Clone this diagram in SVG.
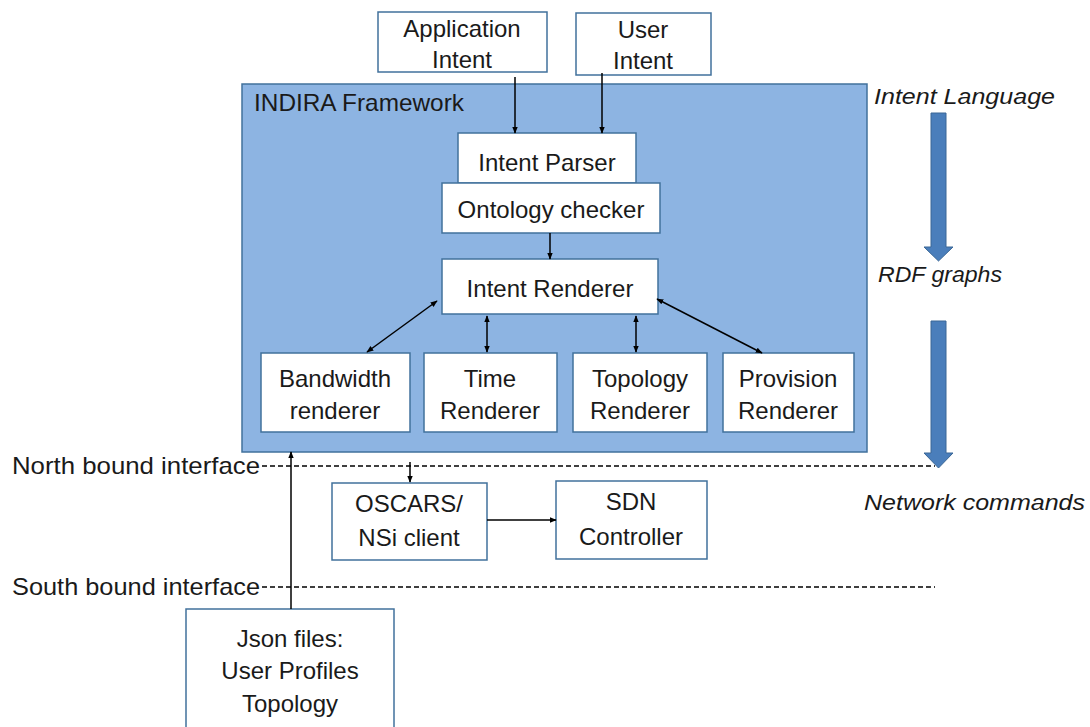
<svg xmlns="http://www.w3.org/2000/svg" width="1090" height="727" viewBox="0 0 1090 727">
<defs>
<style>
.box{fill:#fff;stroke:#41719C;stroke-width:1.5}
.t{font-family:"Liberation Sans",Arial,sans-serif;font-size:24px;fill:#1a1a1a;text-anchor:middle}
.ti{font-family:"Liberation Sans",Arial,sans-serif;font-size:22px;font-style:italic;fill:#1a1a1a}
.c{stroke:#000;stroke-width:1.5;fill:none}
.d{stroke:#000;stroke-width:1.3;stroke-dasharray:5 3;fill:none}
.big{fill:#4A7EBB;stroke:#3A6796;stroke-width:1}
</style>
<marker id="ah" viewBox="0 0 10 10" refX="9" refY="5" markerWidth="7" markerHeight="7" orient="auto-start-reverse" markerUnits="userSpaceOnUse">
<path d="M0,1 L10,5 L0,9 z" fill="#000"/>
</marker>
</defs>
<rect width="1090" height="727" fill="#fff"/>

<g id="framework">
<rect x="242" y="84" width="625" height="368" fill="#8DB4E2" stroke="#41719C" stroke-width="1.5"/>
<text class="t" x="254" y="111" style="text-anchor:start" textLength="210" lengthAdjust="spacingAndGlyphs">INDIRA Framework</text>
</g>

<g id="app-intent">
<rect class="box" x="378" y="12" width="169" height="60"/>
<text class="t" x="462" y="37">Application</text>
<text class="t" x="462" y="68">Intent</text>
</g>
<g id="user-intent">
<rect class="box" x="576" y="13" width="135" height="62"/>
<text class="t" x="643" y="38">User</text>
<text class="t" x="643" y="69">Intent</text>
</g>
<g id="intent-parser">
<rect class="box" x="458" y="133" width="178" height="50"/>
<text class="t" x="547" y="171">Intent Parser</text>
</g>
<g id="ontology-checker">
<rect class="box" x="442" y="183" width="218" height="50"/>
<text class="t" x="551" y="218">Ontology checker</text>
</g>
<g id="intent-renderer">
<rect class="box" x="442" y="259" width="216" height="55"/>
<text class="t" x="550" y="297">Intent Renderer</text>
</g>
<g id="bandwidth-renderer">
<rect class="box" x="261" y="353" width="149" height="79"/>
<text class="t" x="335" y="387">Bandwidth</text>
<text class="t" x="335" y="419">renderer</text>
</g>
<g id="time-renderer">
<rect class="box" x="424" y="353" width="133" height="79"/>
<text class="t" x="490" y="387">Time</text>
<text class="t" x="490" y="419">Renderer</text>
</g>
<g id="topology-renderer">
<rect class="box" x="573" y="353" width="134" height="79"/>
<text class="t" x="640" y="387">Topology</text>
<text class="t" x="640" y="419">Renderer</text>
</g>
<g id="provision-renderer">
<rect class="box" x="723" y="353" width="131" height="79"/>
<text class="t" x="788" y="387">Provision</text>
<text class="t" x="788" y="419">Renderer</text>
</g>
<g id="oscars">
<rect class="box" x="332" y="483" width="155" height="77"/>
<text class="t" x="409" y="512">OSCARS/</text>
<text class="t" x="409" y="546">NSi client</text>
</g>
<g id="sdn">
<rect class="box" x="556" y="481" width="151" height="78"/>
<text class="t" x="631" y="510">SDN</text>
<text class="t" x="631" y="545">Controller</text>
</g>
<g id="json">
<rect class="box" x="186" y="609" width="208" height="130"/>
<text class="t" x="290" y="647">Json files:</text>
<text class="t" x="290" y="679">User Profiles</text>
<text class="t" x="290" y="712">Topology</text>
</g>

<g id="interfaces">
<text class="t" x="12" y="474" style="text-anchor:start" textLength="248" lengthAdjust="spacingAndGlyphs">North bound interface</text>
<text class="t" x="12" y="595" style="text-anchor:start" textLength="248" lengthAdjust="spacingAndGlyphs">South bound interface</text>
<line class="d" x1="262" y1="466" x2="935" y2="466"/>
<line class="d" x1="262" y1="587" x2="935" y2="587"/>
</g>

<g id="layers">
<text class="ti" x="874" y="104" textLength="181" lengthAdjust="spacingAndGlyphs">Intent Language</text>
<text class="ti" x="878" y="282" textLength="124" lengthAdjust="spacingAndGlyphs">RDF graphs</text>
<text class="ti" x="864" y="510" textLength="221" lengthAdjust="spacingAndGlyphs">Network commands</text>
<path class="big" d="M931,113 L946,113 L946,247 L953,247 L938.5,261 L924,247 L931,247 Z"/>
<path class="big" d="M931,321 L946,321 L946,453 L953,453 L938.5,468 L924,453 L931,453 Z"/>
</g>

<g id="connectors">
<line class="c" x1="515" y1="77" x2="515" y2="133" marker-end="url(#ah)"/>
<line class="c" x1="602" y1="73" x2="602" y2="133" marker-end="url(#ah)"/>
<line class="c" x1="550" y1="233" x2="550" y2="259" marker-end="url(#ah)"/>
<line class="c" x1="367" y1="352" x2="437" y2="301" marker-start="url(#ah)" marker-end="url(#ah)"/>
<line class="c" x1="487" y1="316" x2="487" y2="352" marker-start="url(#ah)" marker-end="url(#ah)"/>
<line class="c" x1="636" y1="316" x2="636" y2="352" marker-start="url(#ah)" marker-end="url(#ah)"/>
<line class="c" x1="657" y1="299" x2="762" y2="353" marker-start="url(#ah)" marker-end="url(#ah)"/>
<line class="c" x1="410" y1="462" x2="410" y2="482" marker-end="url(#ah)"/>
<line class="c" x1="487" y1="520" x2="556" y2="520" marker-end="url(#ah)"/>
<line class="c" x1="291" y1="609" x2="291" y2="452" marker-end="url(#ah)"/>
</g>
</svg>
